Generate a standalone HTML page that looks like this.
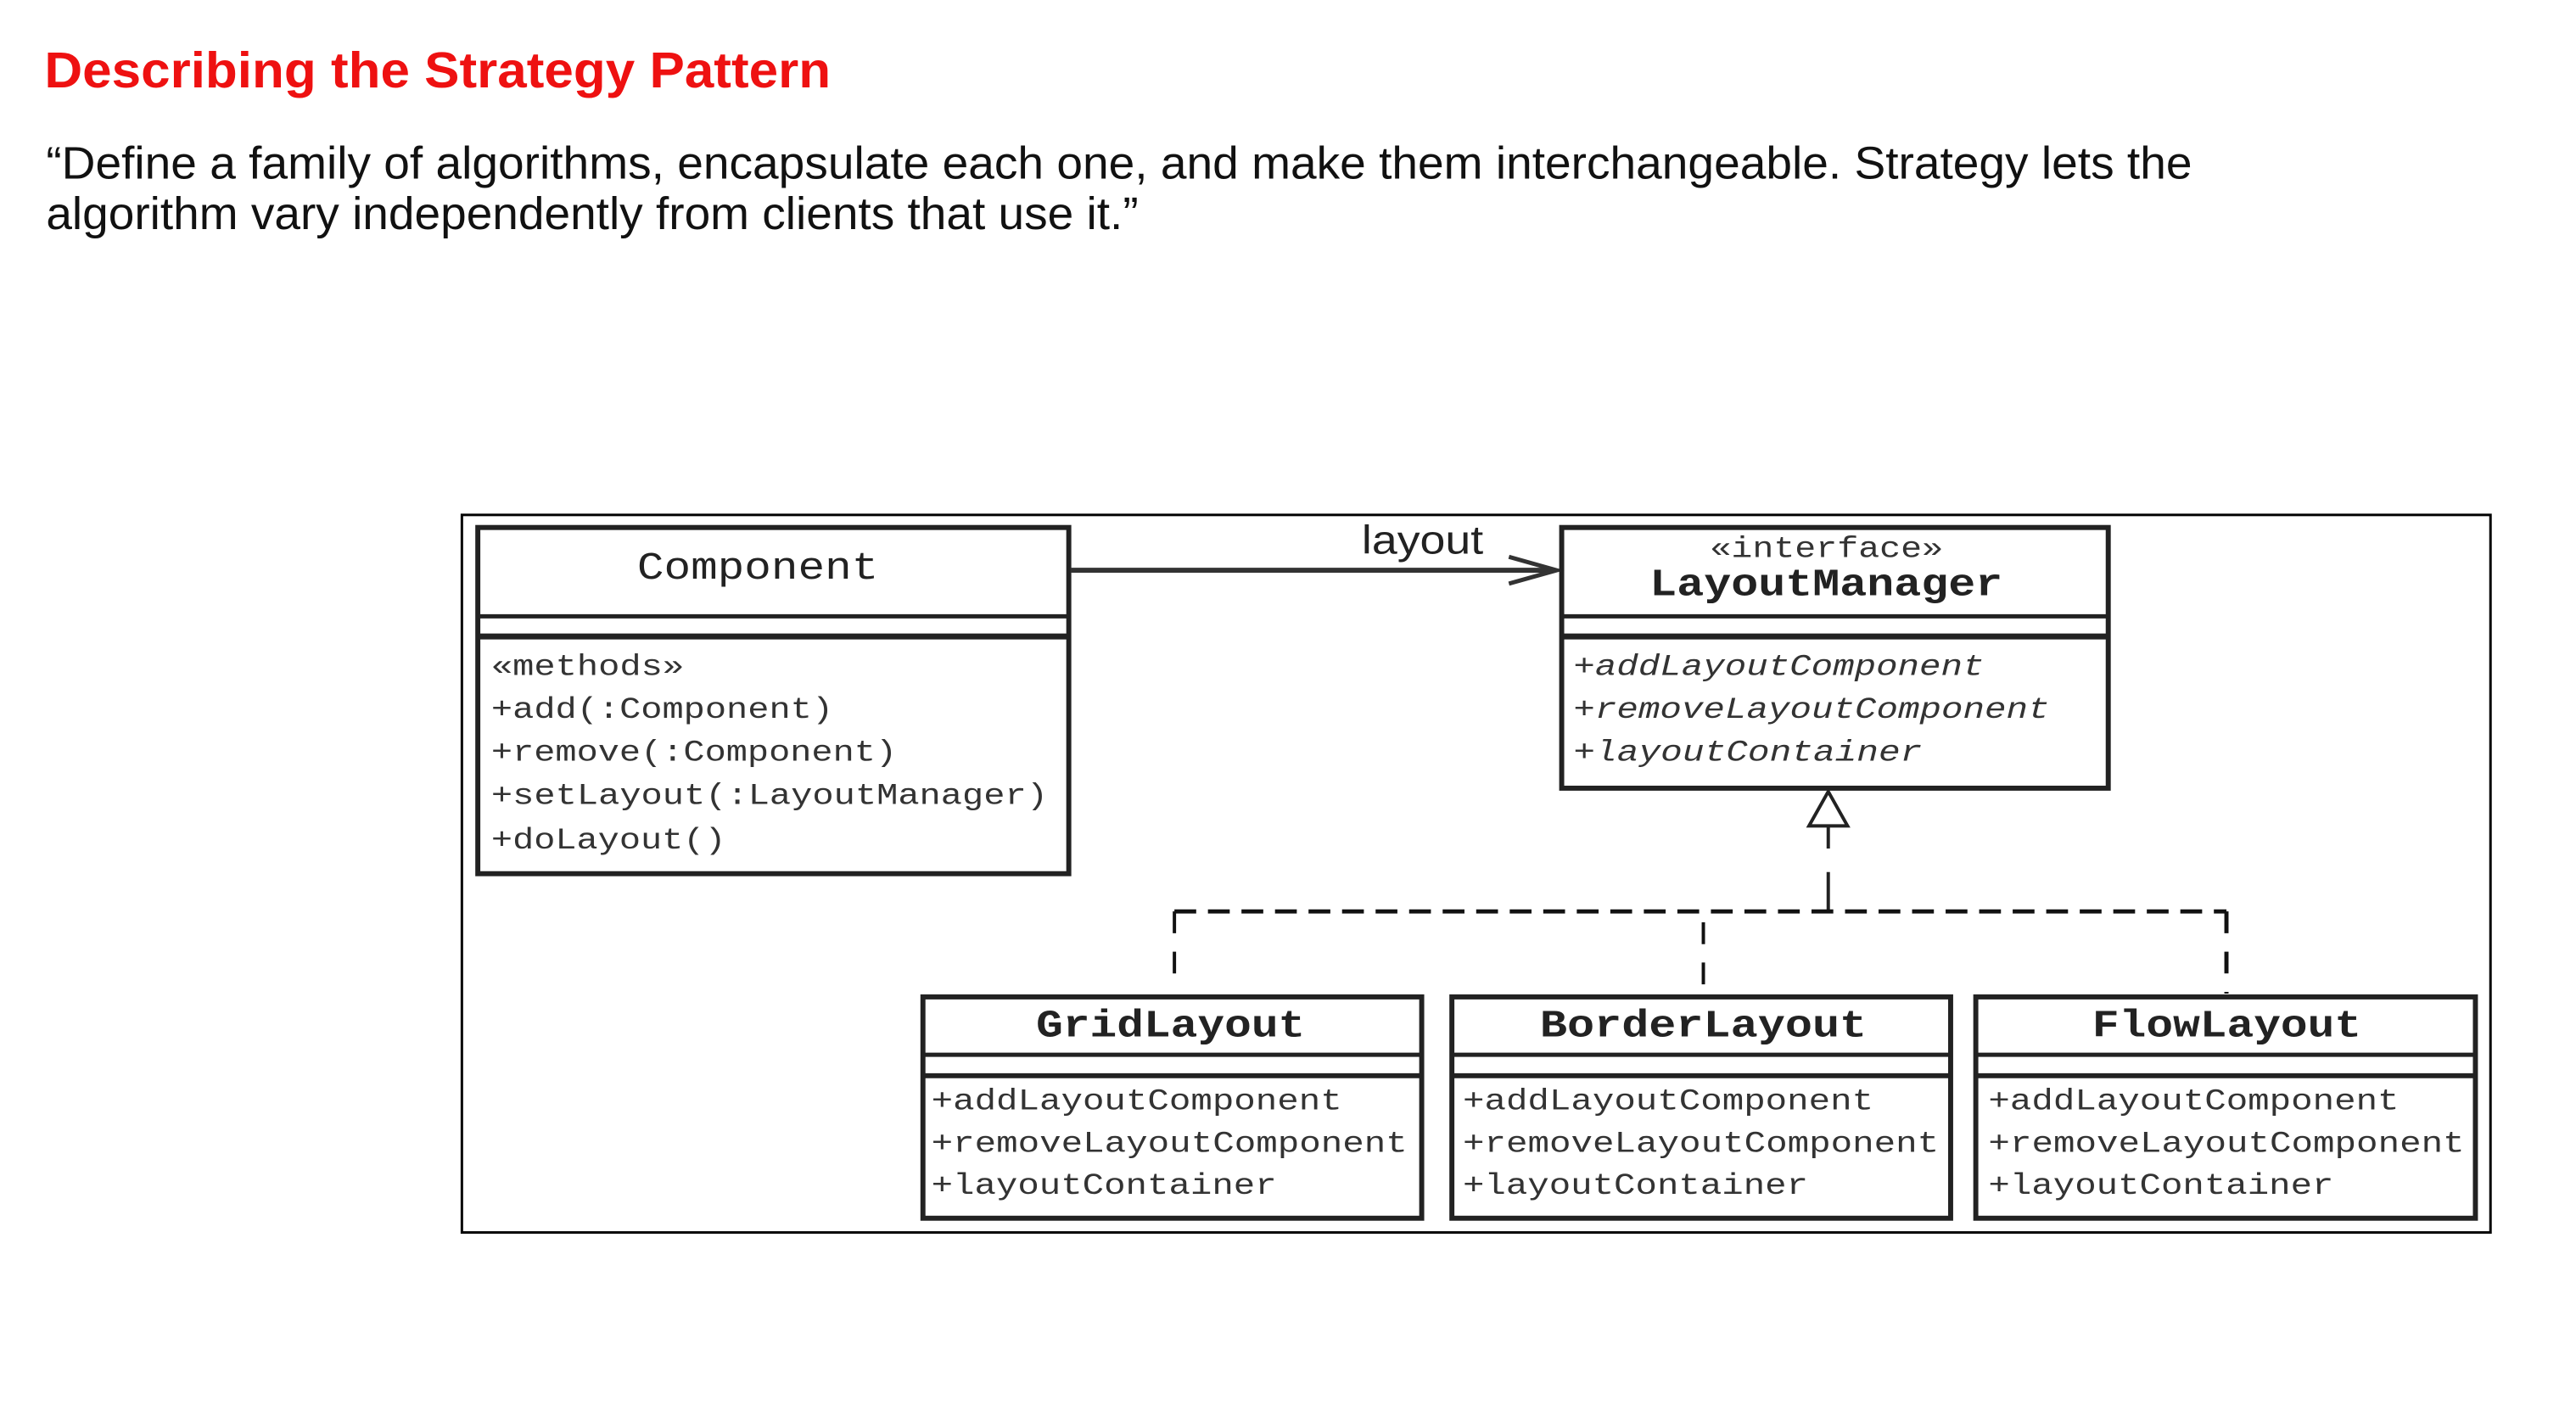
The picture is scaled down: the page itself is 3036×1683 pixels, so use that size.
<!DOCTYPE html>
<html><head><meta charset="utf-8"><style>
html,body{margin:0;padding:0;background:#fff;width:3036px;height:1683px;overflow:hidden}
svg{display:block}
.m{font-family:"Liberation Mono",monospace;fill:#333;font-size:36px}
.h{font-family:"Liberation Mono",monospace;fill:#222;font-size:46px}
</style></head><body>
<svg width="3036" height="1683" viewBox="0 0 3073 1703" xmlns="http://www.w3.org/2000/svg">
<text x="53" y="104" font-family="Liberation Sans, sans-serif" font-weight="bold" font-size="60" fill="#ee1111" textLength="938" lengthAdjust="spacingAndGlyphs">Describing the Strategy Pattern</text>
<text x="55" y="213" font-family="Liberation Sans, sans-serif" font-size="54" fill="#111" textLength="2560" lengthAdjust="spacingAndGlyphs">“Define a family of algorithms, encapsulate each one, and make them interchangeable. Strategy lets the</text>
<text x="55" y="273" font-family="Liberation Sans, sans-serif" font-size="54" fill="#111" textLength="1303" lengthAdjust="spacingAndGlyphs">algorithm vary independently from clients that use it.”</text>

<rect x="551" y="614" width="2420" height="856" fill="none" stroke="#000" stroke-width="3"/>

<g fill="none" stroke="#222" stroke-width="6">
<rect x="570" y="629" width="705" height="413"/>
<line x1="570" y1="735" x2="1275" y2="735" stroke-width="5"/>
<line x1="570" y1="759" x2="1275" y2="759" stroke-width="7"/>
</g>
<text class="h" x="760" y="690" textLength="288" lengthAdjust="spacingAndGlyphs">Component</text>
<text class="m" x="586" y="805" textLength="230" lengthAdjust="spacingAndGlyphs">«methods»</text>
<text class="m" x="586" y="856" textLength="408" lengthAdjust="spacingAndGlyphs">+add(:Component)</text>
<text class="m" x="586" y="907" textLength="484" lengthAdjust="spacingAndGlyphs">+remove(:Component)</text>
<text class="m" x="586" y="959" textLength="664" lengthAdjust="spacingAndGlyphs">+setLayout(:LayoutManager)</text>
<text class="m" x="586" y="1012" textLength="280" lengthAdjust="spacingAndGlyphs">+doLayout()</text>

<line x1="1277" y1="680" x2="1855" y2="680" stroke="#333" stroke-width="6"/>
<polyline points="1800,664 1857,680 1800,696" fill="none" stroke="#333" stroke-width="5"/>
<text x="1697" y="660" text-anchor="middle" font-family="Liberation Sans, sans-serif" font-size="48" fill="#222" textLength="145" lengthAdjust="spacingAndGlyphs">layout</text>

<g fill="none" stroke="#222" stroke-width="6">
<rect x="1863" y="629" width="652" height="311"/>
<line x1="1863" y1="735" x2="2515" y2="735" stroke-width="5"/>
<line x1="1863" y1="759" x2="2515" y2="759" stroke-width="7"/>
</g>
<text class="m" x="2040" y="664" textLength="278" lengthAdjust="spacingAndGlyphs">«interface»</text>
<text class="h" x="1968" y="710" font-weight="bold" textLength="421" lengthAdjust="spacingAndGlyphs">LayoutManager</text>
<text class="m" x="1877" y="805" font-style="italic" textLength="490" lengthAdjust="spacingAndGlyphs">+addLayoutComponent</text>
<text class="m" x="1877" y="856" font-style="italic" textLength="568" lengthAdjust="spacingAndGlyphs">+removeLayoutComponent</text>
<text class="m" x="1877" y="907" font-style="italic" textLength="416" lengthAdjust="spacingAndGlyphs">+layoutContainer</text>

<polygon points="2158,985 2181,944 2204,985" fill="#fff" stroke="#222" stroke-width="4"/>
<line x1="2181" y1="985" x2="2181" y2="1012" stroke="#222" stroke-width="4"/>
<line x1="2181" y1="1040" x2="2181" y2="1087" stroke="#222" stroke-width="4"/>
<line x1="1401" y1="1087" x2="2656" y2="1087" stroke="#111" stroke-width="5" stroke-dasharray="26,14"/>
<line x1="1401" y1="1087" x2="1401" y2="1175" stroke="#111" stroke-width="4" stroke-dasharray="26,22"/>
<line x1="2032" y1="1100" x2="2032" y2="1185" stroke="#111" stroke-width="4" stroke-dasharray="26,22"/>
<line x1="2656" y1="1087" x2="2656" y2="1185" stroke="#111" stroke-width="5" stroke-dasharray="26,22"/>

<g fill="none" stroke="#222" stroke-width="6">
<rect x="1101" y="1189" width="595" height="264"/>
<line x1="1101" y1="1258" x2="1696" y2="1258" stroke-width="5"/>
<line x1="1101" y1="1283" x2="1696" y2="1283" stroke-width="6"/>
<rect x="1732" y="1189" width="595" height="264"/>
<line x1="1732" y1="1258" x2="2327" y2="1258" stroke-width="5"/>
<line x1="1732" y1="1283" x2="2327" y2="1283" stroke-width="6"/>
<rect x="2357" y="1189" width="596" height="264"/>
<line x1="2357" y1="1258" x2="2953" y2="1258" stroke-width="5"/>
<line x1="2357" y1="1283" x2="2953" y2="1283" stroke-width="6"/>
</g>
<text class="h" x="1236" y="1236" font-weight="bold" textLength="321" lengthAdjust="spacingAndGlyphs">GridLayout</text>
<text class="h" x="1837" y="1236" font-weight="bold" textLength="390" lengthAdjust="spacingAndGlyphs">BorderLayout</text>
<text class="h" x="2496" y="1236" font-weight="bold" textLength="321" lengthAdjust="spacingAndGlyphs">FlowLayout</text>

<text class="m" x="1111" y="1323" textLength="490" lengthAdjust="spacingAndGlyphs">+addLayoutComponent</text>
<text class="m" x="1111" y="1374" textLength="568" lengthAdjust="spacingAndGlyphs">+removeLayoutComponent</text>
<text class="m" x="1111" y="1424" textLength="412" lengthAdjust="spacingAndGlyphs">+layoutContainer</text>
<text class="m" x="1745" y="1323" textLength="490" lengthAdjust="spacingAndGlyphs">+addLayoutComponent</text>
<text class="m" x="1745" y="1374" textLength="568" lengthAdjust="spacingAndGlyphs">+removeLayoutComponent</text>
<text class="m" x="1745" y="1424" textLength="412" lengthAdjust="spacingAndGlyphs">+layoutContainer</text>
<text class="m" x="2372" y="1323" textLength="490" lengthAdjust="spacingAndGlyphs">+addLayoutComponent</text>
<text class="m" x="2372" y="1374" textLength="568" lengthAdjust="spacingAndGlyphs">+removeLayoutComponent</text>
<text class="m" x="2372" y="1424" textLength="412" lengthAdjust="spacingAndGlyphs">+layoutContainer</text>
</svg>
</body></html>
